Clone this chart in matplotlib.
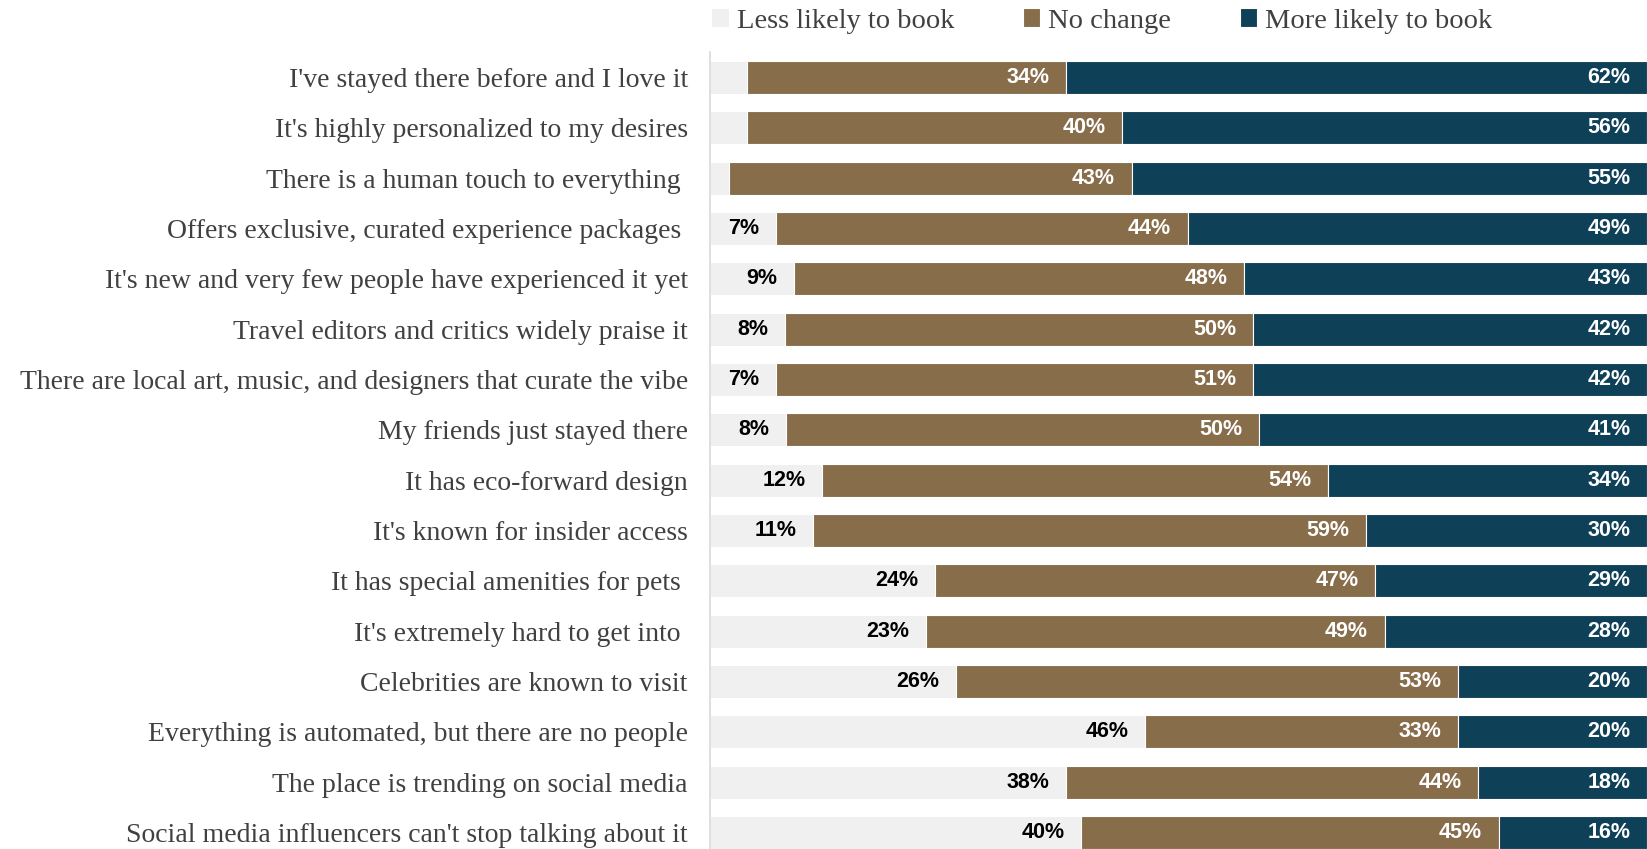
import numpy as np
import matplotlib
matplotlib.use("Agg")
import matplotlib.pyplot as plt

categories = [
    "I've stayed there before and I love it",
    "It's highly personalized to my desires",
    "There is a human touch to everything ",
    "Offers exclusive, curated experience packages ",
    "It's new and very few people have experienced it yet",
    "Travel editors and critics widely praise it",
    "There are local art, music, and designers that curate the vibe",
    "My friends just stayed there",
    "It has eco-forward design",
    "It's known for insider access",
    "It has special amenities for pets ",
    "It's extremely hard to get into ",
    "Celebrities are known to visit",
    "Everything is automated, but there are no people",
    "The place is trending on social media",
    "Social media influencers can't stop talking about it",
]
less_likely = [4, 4, 2, 7, 9, 8, 7, 8, 12, 11, 24, 23, 26, 46, 38, 40]
no_change = [34, 40, 43, 44, 48, 50, 51, 50, 54, 59, 47, 49, 53, 33, 44, 45]
more_likely = [62, 56, 55, 49, 43, 42, 42, 41, 34, 30, 29, 28, 20, 20, 18, 16]
series_names = ["Less likely to book", "No change", "More likely to book"]
colors = ["#F0F0F0", "#886D4B", "#0E4058"]
label_colors = ["black", "white", "white"]

W, H = 1647, 849
fig = plt.figure(figsize=(W / 100, H / 100), dpi=100)
n = len(categories)
step = 50.33
ax_h = n * step
ax_top = 52.3
ax = fig.add_axes([710 / W, (H - ax_top - ax_h) / H, (W - 710) / W, ax_h / H])

data = np.array([less_likely, no_change, more_likely], dtype=float)
shares = data / data.sum(axis=0) * 100
y = np.arange(n)
left = np.zeros(n)
handles = []
for i in range(3):
    b = ax.barh(y, shares[i], left=left, height=0.656, color=colors[i],
                edgecolor="white", linewidth=0.8, label=series_names[i])
    handles.append(b)
    for j in range(n):
        v = data[i, j]
        if v >= 5:
            ax.annotate(f"{int(v)}%", xy=(left[j] + shares[i, j], y[j]),
                        xytext=(-12, 0), textcoords="offset points",
                        ha="right", va="center", fontsize=15.5,
                        fontweight="bold", color=label_colors[i],
                        family="Liberation Sans")
    left += shares[i]

ax.set_xlim(0, 100)
ax.set_ylim(n - 0.5, -0.5)
ax.set_yticks(y)
ax.set_yticklabels(categories, family="Liberation Serif", fontsize=20,
                   color="#404040")
ax.tick_params(axis="y", length=0, pad=16)
ax.set_xticks([])
for s in ["top", "right", "bottom"]:
    ax.spines[s].set_visible(False)
ax.spines["left"].set_color("#D9D9D9")
ax.spines["left"].set_linewidth(1.2)

leg = fig.legend(handles=handles, labels=series_names, loc="center",
                 bbox_to_anchor=(1102 / W, 1 - 21 / H), ncol=3, frameon=False,
                 prop={"family": "Liberation Serif", "size": 20.5},
                 handlelength=0.6, handleheight=0.6, handletextpad=0.3,
                 columnspacing=2.4, borderaxespad=0)
for t in leg.get_texts():
    t.set_color("#404040")

fig.savefig("out.png", dpi=100)
